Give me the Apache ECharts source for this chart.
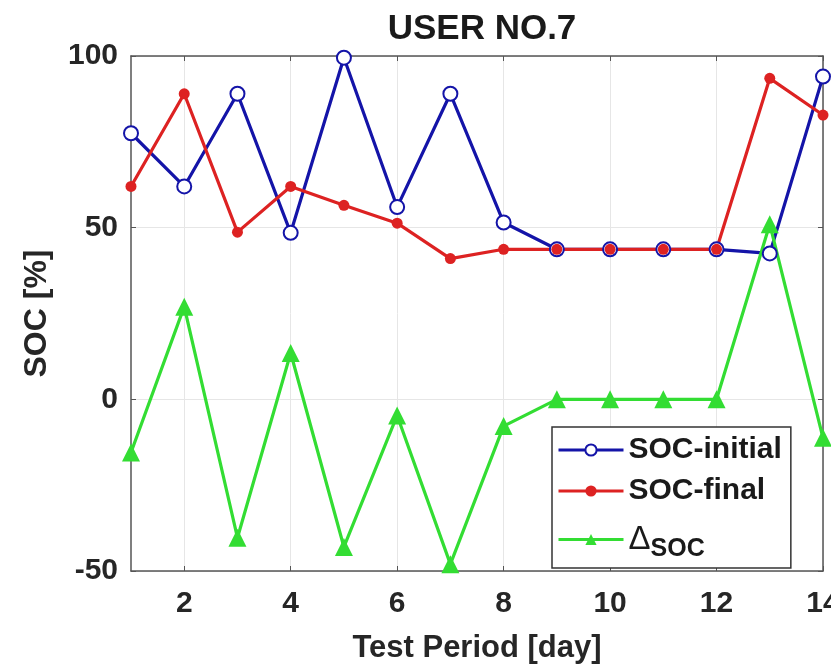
<!DOCTYPE html>
<html>
<head>
<meta charset="utf-8">
<script src="https://cdn.jsdelivr.net/npm/echarts@6/dist/echarts.min.js"></script>
<style>
  html, body { margin: 0; padding: 0; background: #fff; }
  #main { width: 831px; height: 668px; }
</style>
</head>
<body>
<div id="main"></div>
<script>
var chartDom = document.getElementById('main');
var myChart = echarts.init(chartDom);
var option;

var days = ['1', '2', '3', '4', '5', '6', '7', '8', '9', '10', '11', '12', '13', '14'];
var socInitial = [77.5, 62, 89, 48.5, 99.5, 56, 89, 51.5, 43.7, 43.7, 43.7, 43.7, 42.5, 94];
var socFinal = [62, 89, 48.7, 62, 56.5, 51.3, 41, 43.7, 43.7, 43.7, 43.7, 43.7, 93.5, 82.8];
var deltaSoc = [-15.5, 27, -40.3, 13.5, -43, -4.7, -48, -7.8, 0, 0, 0, 0, 51, -11.2];

var FONT = "'Liberation Sans', Arial, sans-serif";
var axisColor = '#555';

// only even days get a tick / label / grid line, like the matlab figure
function evenDay(idx, val) {
    return Number(val) % 2 === 0;
}

option = {
    animation: false,
    backgroundColor: '#fff',
    title: {
        text: 'USER NO.7',
        left: 477,
        top: 7,
        textAlign: 'center',
        textStyle: { fontFamily: FONT, fontSize: 35, fontWeight: 'bold', color: '#1a1a1a' }
    },
    grid: { left: 131, right: 8, top: 56, bottom: 97, containLabel: false, outerBoundsMode: 'none' },
    legend: {
        orient: 'vertical',
        left: 552,
        top: 427,
        padding: [8, 9, 6, 5],
        itemGap: 11,
        itemWidth: 65,
        itemHeight: 14,
        itemTextGap: 5,
        backgroundColor: '#fff',
        borderColor: '#333',
        borderWidth: 1.5,
        borderRadius: 0,
        lineStyle: { width: 3 },
        data: ['SOC-initial', 'SOC-final', 'ΔSOC'],
        formatter: function (name) {
            if (name === 'ΔSOC') return '{d|Δ}{s|SOC}';
            return name;
        },
        textStyle: {
            fontFamily: FONT,
            fontSize: 30,
            fontWeight: 'bold',
            color: '#1a1a1a',
            lineHeight: 30,
            rich: {
                d: { fontFamily: FONT, fontSize: 33, fontWeight: 'normal', color: '#1a1a1a', lineHeight: 33 },
                s: { fontFamily: FONT, fontSize: 25, fontWeight: 'bold', color: '#1a1a1a', lineHeight: 25, padding: [20, 0, 0, 0] }
            }
        }
    },
    xAxis: [{
        type: 'category',
        data: days,
        boundaryGap: false,
        name: 'Test Period [day]',
        nameLocation: 'middle',
        nameGap: 62,
        nameTextStyle: { fontFamily: FONT, fontSize: 31, fontWeight: 'bold', color: '#262626' },
        axisLine: { show: true, onZero: false, lineStyle: { color: axisColor, width: 1.5 } },
        axisTick: { show: true, inside: true, length: 5, interval: evenDay, lineStyle: { color: axisColor } },
        axisLabel: { interval: evenDay, margin: 18, alignMaxLabel: 'center', fontFamily: FONT, fontSize: 30, fontWeight: 'bold', color: '#262626' },
        splitLine: { show: true, interval: evenDay, lineStyle: { color: '#e6e6e6', width: 1 } }
    }, {
        type: 'category',
        data: days,
        boundaryGap: false,
        position: 'top',
        axisLine: { show: true, onZero: false, lineStyle: { color: axisColor, width: 1.5 } },
        axisTick: { show: true, inside: true, length: 5, interval: evenDay, lineStyle: { color: axisColor } },
        axisLabel: { show: false },
        splitLine: { show: false }
    }],
    yAxis: [{
        type: 'value',
        min: -50,
        max: 100,
        interval: 50,
        name: 'SOC [%]',
        nameLocation: 'middle',
        nameGap: 78,
        nameTextStyle: { fontFamily: FONT, fontSize: 32, fontWeight: 'bold', color: '#262626' },
        axisLine: { show: true, onZero: false, lineStyle: { color: axisColor, width: 1.5 } },
        axisTick: { show: true, inside: true, length: 5, lineStyle: { color: axisColor } },
        axisLabel: { margin: 13, fontFamily: FONT, fontSize: 30, fontWeight: 'bold', color: '#262626' },
        splitLine: { show: true, lineStyle: { color: '#e6e6e6', width: 1 } }
    }, {
        type: 'value',
        min: -50,
        max: 100,
        interval: 50,
        position: 'right',
        axisLine: { show: true, onZero: false, lineStyle: { color: axisColor, width: 1.5 } },
        axisTick: { show: true, inside: true, length: 5, lineStyle: { color: axisColor } },
        axisLabel: { show: false },
        splitLine: { show: false }
    }],
    series: [{
            name: 'SOC-initial',
            type: 'line',
            data: socInitial,
            symbol: 'emptyCircle',
            symbolSize: 14,
            itemStyle: { color: '#1414a8', borderWidth: 3 },
            lineStyle: { color: '#1414a8', width: 3.2 }
        },
        {
            name: 'SOC-final',
            type: 'line',
            data: socFinal,
            symbol: 'circle',
            symbolSize: 11,
            itemStyle: { color: '#dd2222' },
            lineStyle: { color: '#dd2222', width: 3.2 }
        },
        {
            name: 'ΔSOC',
            type: 'line',
            data: deltaSoc,
            symbol: 'triangle',
            symbolSize: 18,
            itemStyle: { color: '#33dd33' },
            lineStyle: { color: '#33dd33', width: 3.2 }
        }
    ]
};

option && myChart.setOption(option);
</script>
</body>
</html>
